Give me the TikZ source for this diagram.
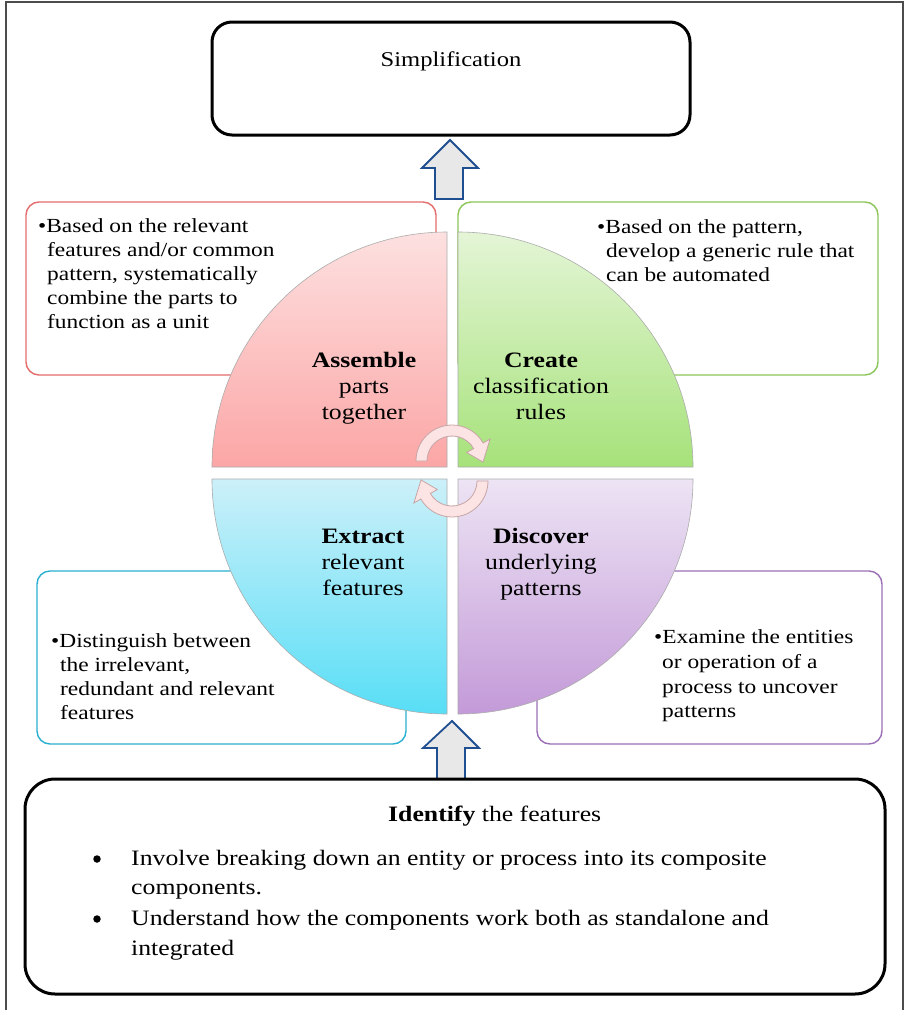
\documentclass[tikz,border=0pt]{standalone}
\usepackage{fontspec}
\setmainfont[FakeStretch=1.17]{Liberation Serif}
\definecolor{redline}{RGB}{228,108,108}
\definecolor{greenline}{RGB}{140,198,90}
\definecolor{cyanline}{RGB}{42,176,208}
\definecolor{purpleline}{RGB}{155,111,181}
\definecolor{pinktop}{RGB}{253,224,224}
\definecolor{pinkbot}{RGB}{252,166,166}
\definecolor{greentop}{RGB}{228,245,214}
\definecolor{greenbot}{RGB}{166,226,122}
\definecolor{cyantop}{RGB}{204,240,249}
\definecolor{cyanbot}{RGB}{88,222,246}
\definecolor{purptop}{RGB}{237,228,244}
\definecolor{purpbot}{RGB}{195,154,216}
\definecolor{arrowblue}{RGB}{31,78,145}
\definecolor{cfill}{RGB}{252,228,228}
\definecolor{cbord}{RGB}{200,165,165}
\begin{document}
\begin{tikzpicture}[x=1pt,y=-1pt,
  tbox/.style={rounded corners=13pt, line width=1.4pt, fill=white},
  quad/.style={draw=gray!65, line width=0.6pt},
  blk/.style={draw=arrowblue, fill=gray!18, line width=1.8pt, line join=miter},
  carrow/.style={draw=cbord, fill=cfill, line width=0.8pt},
  ttxt/.style={anchor=base west, inner sep=0pt, font=\fontsize{20}{24}\selectfont},
  qtxt/.style={anchor=base, inner sep=0pt, font=\fontsize{22}{26}\selectfont},
  btxt/.style={anchor=base west, inner sep=0pt, font=\fontsize{22}{29}\selectfont},
  bdot/.style={circle, fill=black, inner sep=0pt, minimum size=7.5pt},
]
\useasboundingbox (0,0) rectangle (904,1010);
\fill[white] (0,0) rectangle (904,1010);
% outer frame
\draw[line width=1.5pt, draw=black!70] (6,2) rectangle (903,1014);

% top box
\draw[line width=3pt, rounded corners=20pt] (212,22) rectangle (690,135);
\node[anchor=base, inner sep=0pt, font=\fontsize{21}{25}\selectfont] (simp) at (451,66) {Simplification};

% top block arrow
\draw[blk] (450,140) -- (478,168) -- (463,168) -- (463,199) -- (435,199) -- (435,168) -- (422,168) -- cycle;

% side text boxes
\draw[tbox, draw=redline] (26,202) rectangle (436,375);
\draw[tbox, draw=greenline] (458,202) rectangle (878,375);
\draw[tbox, draw=cyanline] (37,571) rectangle (406,744);
\draw[tbox, draw=purpleline] (537,571) rectangle (882,744);

% quadrants
\path[quad, top color=pinktop, bottom color=pinkbot] (447,467) -- (212,467) arc[start angle=180, end angle=270, radius=235] -- cycle;
\path[quad, top color=greentop, bottom color=greenbot] (458,467) -- (458,232) arc[start angle=270, end angle=360, radius=235] -- cycle;
\path[quad, top color=cyantop, bottom color=cyanbot] (447,479) -- (212,479) arc[start angle=180, end angle=90, radius=235] -- cycle;
\path[quad, top color=purptop, bottom color=purpbot] (458,479) -- (693,479) arc[start angle=0, end angle=90, radius=235] -- cycle;

% circular arrows
\coordinate (ct) at (452,461);
\coordinate (cb) at (452,481);
\draw[carrow] ([shift={(180:36)}]ct) arc[start angle=180, end angle=330, radius=36]
  -- ([shift={(330:44)}]ct) -- ([shift={(2:31)}]ct) -- ([shift={(330:17)}]ct)
  -- ([shift={(330:25)}]ct) arc[start angle=330, end angle=180, radius=25] -- cycle;
\draw[carrow] ([shift={(0:36)}]cb) arc[start angle=0, end angle=150, radius=36]
  -- ([shift={(150:44)}]cb) -- ([shift={(182:31)}]cb) -- ([shift={(150:17)}]cb)
  -- ([shift={(150:25)}]cb) arc[start angle=150, end angle=0, radius=25] -- cycle;

% quadrant labels
\node[qtxt] (qa1) at (364,367) {\bfseries Assemble};
\node[qtxt] (qa2) at (364,393) {parts};
\node[qtxt] (qa3) at (364,419) {together};
\node[qtxt] (qc1) at (541,367) {\bfseries Create};
\node[qtxt] (qc2) at (541,393) {classification};
\node[qtxt] (qc3) at (541,419) {rules};
\node[qtxt] (qe1) at (363,543) {\bfseries Extract};
\node[qtxt] (qe2) at (363,569) {relevant};
\node[qtxt] (qe3) at (363,595) {features};
\node[qtxt] (qd1) at (541,543) {\bfseries Discover};
\node[qtxt] (qd2) at (541,569) {underlying};
\node[qtxt] (qd3) at (541,595) {patterns};

% red box text
\node[ttxt] (r1) at (38,232) {•Based on the relevant};
\node[ttxt] (r2) at (47,256) {features and/or common};
\node[ttxt] (r3) at (47,280) {pattern, systematically};
\node[ttxt] (r4) at (47,304) {combine the parts to};
\node[ttxt] (r5) at (47,328) {function as a unit};

% green box text
\node[ttxt] (g1) at (597,233) {•Based on the pattern,};
\node[ttxt] (g2) at (606,257) {develop a generic rule that};
\node[ttxt] (g3) at (606,281) {can be automated};

% cyan box text
\node[ttxt] (c1) at (51,647) {•Distinguish between};
\node[ttxt] (c2) at (60,671) {the irrelevant,};
\node[ttxt] (c3) at (60,695) {redundant and relevant};
\node[ttxt] (c4) at (60,719) {features};

% purple box text
\node[ttxt] (p1) at (654,643) {•Examine the entities};
\node[ttxt] (p2) at (662,668) {or operation of a};
\node[ttxt] (p3) at (662,693) {process to uncover};
\node[ttxt] (p4) at (662,717) {patterns};

% bottom block arrow
\draw[blk] (452,721) -- (479,748) -- (465,748) -- (465,779) -- (437,779) -- (437,748) -- (423,748) -- cycle;

% bottom box
\draw[line width=3pt, rounded corners=30pt] (25,779) rectangle (885,994);
\node[btxt] (id) at (388,821) {\textbf{Identify} the features};
\node[bdot] (b1) at (97,859) {};
\node[btxt] (l1) at (131,865) {Involve breaking down an entity or process into its composite};
\node[btxt] (l2) at (131,894) {components.};
\node[bdot] (b2) at (97,919) {};
\node[btxt] (l3) at (131,925) {Understand how the components work both as standalone and};
\node[btxt] (l4) at (131,955) {integrated};
\end{tikzpicture}
\end{document}
